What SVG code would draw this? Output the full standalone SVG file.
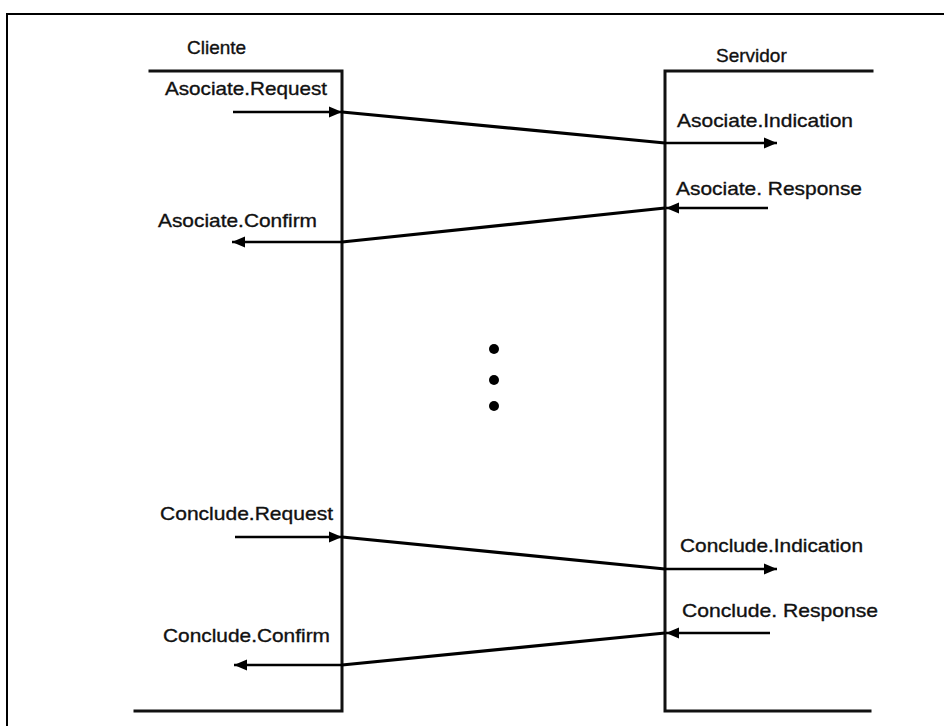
<svg xmlns="http://www.w3.org/2000/svg" width="944" height="726" viewBox="0 0 944 726">
  <style>
    .frame { fill: none; stroke: #000; stroke-width: 2; }
    .life { fill: none; stroke: #111; stroke-width: 3; stroke-linecap: square; }
    .msg { fill: none; stroke: #000; stroke-width: 2.5; }
    .cross { fill: none; stroke: #000; stroke-width: 3.2; }
    .lbl, .title { font-family: "Liberation Sans", Arial, sans-serif; font-size: 19px; fill: #111; stroke: #111; stroke-width: 0.35; }
  </style>
  <defs>
    <marker id="head" markerUnits="userSpaceOnUse" markerWidth="14" markerHeight="12" refX="13" refY="6" orient="auto">
      <path d="M0,0.5 L13,6 L0,11.5 Z" fill="#000"/>
    </marker>
  </defs>

  <rect width="944" height="726" fill="#fff"/>

  <!-- outer frame (top and left edges only) -->
  <path class="frame" d="M7,726 V14 H944"/>

  <!-- client side -->
  <g id="cliente">
    <text class="title" x="187" y="54">Cliente</text>
    <path class="life" d="M150,71 H342 V711 H135"/>
  </g>

  <!-- server side -->
  <g id="servidor">
    <text class="title" x="716" y="62">Servidor</text>
    <path class="life" d="M872,71 H665 V711 H870"/>
  </g>

  <!-- primitive labels -->
  <g id="labels">
    <text class="lbl" x="165" y="95" textLength="162" lengthAdjust="spacingAndGlyphs">Asociate.Request</text>
    <text class="lbl" x="677" y="127" textLength="176" lengthAdjust="spacingAndGlyphs">Asociate.Indication</text>
    <text class="lbl" x="676" y="195" textLength="186" lengthAdjust="spacingAndGlyphs">Asociate. Response</text>
    <text class="lbl" x="158" y="227" textLength="159" lengthAdjust="spacingAndGlyphs">Asociate.Confirm</text>
    <text class="lbl" x="160" y="520" textLength="173" lengthAdjust="spacingAndGlyphs">Conclude.Request</text>
    <text class="lbl" x="680" y="552" textLength="183" lengthAdjust="spacingAndGlyphs">Conclude.Indication</text>
    <text class="lbl" x="682" y="617" textLength="196" lengthAdjust="spacingAndGlyphs">Conclude. Response</text>
    <text class="lbl" x="163" y="642" textLength="167" lengthAdjust="spacingAndGlyphs">Conclude.Confirm</text>
  </g>

  <!-- ellipsis between the two exchanges -->
  <g id="ellipsis" fill="#000">
    <circle cx="494" cy="349" r="5"/>
    <circle cx="494" cy="380" r="5"/>
    <circle cx="494" cy="406" r="5"/>
  </g>

  <!-- message flows -->
  <g id="connectors">
    <!-- Asociate: request -> indication -->
    <line class="msg" x1="233" y1="112" x2="342" y2="112" marker-end="url(#head)"/>
    <line class="cross" x1="342" y1="112" x2="665" y2="143"/>
    <line class="msg" x1="665" y1="143" x2="777" y2="143" marker-end="url(#head)"/>
    <!-- Asociate: response -> confirm -->
    <line class="msg" x1="768" y1="208" x2="666" y2="208" marker-end="url(#head)"/>
    <line class="cross" x1="665" y1="208" x2="342" y2="242"/>
    <line class="msg" x1="342" y1="242" x2="232" y2="242" marker-end="url(#head)"/>
    <!-- Conclude: request -> indication -->
    <line class="msg" x1="235" y1="537" x2="342" y2="537" marker-end="url(#head)"/>
    <line class="cross" x1="342" y1="537" x2="665" y2="569"/>
    <line class="msg" x1="665" y1="569" x2="777" y2="569" marker-end="url(#head)"/>
    <!-- Conclude: response -> confirm -->
    <line class="msg" x1="770" y1="633" x2="666" y2="633" marker-end="url(#head)"/>
    <line class="cross" x1="665" y1="633" x2="342" y2="665"/>
    <line class="msg" x1="342" y1="665" x2="234" y2="665" marker-end="url(#head)"/>
  </g>
</svg>
